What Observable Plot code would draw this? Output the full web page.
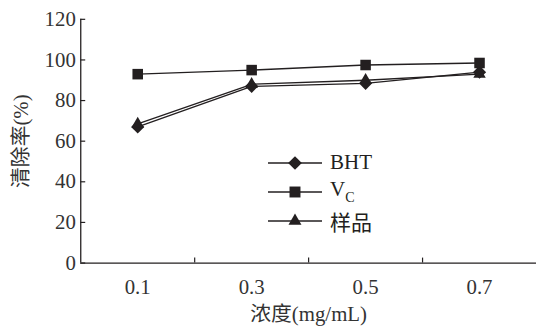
<!DOCTYPE html>
<html><head><meta charset="utf-8">
<script src="https://cdn.jsdelivr.net/npm/d3@7"></script>
<script src="https://cdn.jsdelivr.net/npm/@observablehq/plot@0.6"></script>
<style>
html,body{margin:0;padding:0;background:#fff;overflow:hidden;}
#wrap{position:relative;width:536px;height:329px;overflow:hidden;font-family:"Liberation Serif","Times New Roman","Noto Sans CJK SC",serif;color:#231f20;}
#chart svg text{font-size:21px !important;font-family:"Liberation Serif","Times New Roman","Noto Sans CJK SC",serif !important;}
#legend{position:absolute;left:266px;top:148px;font-size:21px;}
#legend .row{display:flex;align-items:center;height:29px;}
#legend svg{display:block;margin-right:6px;}
</style></head>
<body><div id="wrap"><div id="chart"></div><div id="legend"></div></div>
<script>
const concentrations = [0.1, 0.3, 0.5, 0.7];
const bht = [67, 87, 88.5, 94];
const vc = [93, 95, 97.5, 98.5];
const sample = [68.5, 88, 90, 93];
const seriesNames = ["BHT", "VC", "样品"];
const seriesSymbols = ["diamond2", "square", "triangle2"];
const yTicks = [0, 20, 40, 60, 80, 100, 120];
const xTickLabels = ["0.1", "0.3", "0.5", "0.7"];
const xBoundaries = [0.2, 0.4, 0.6];

const ink = "#231f20";
const table = [];
[bht, vc, sample].forEach((vals, si) => {
  vals.forEach((v, i) => table.push({series: seriesNames[si], x: concentrations[i], y: v, sym: seriesSymbols[si]}));
});

const chart = Plot.plot({
  width: 541, height: 329,
  marginLeft: 81, marginRight: 0, marginTop: 19, marginBottom: 64,
  style: {fontSize: "21px", color: ink, background: "#fff"},
  x: {domain: [0, 0.8]},
  y: {domain: [0, 120]},
  symbol: {domain: seriesSymbols, range: seriesSymbols},
  marks: [
    Plot.axisY({ticks: yTicks, tickSize: -5, tickPadding: 10, stroke: ink, strokeWidth: 1.2, fill: "#333",
      label: "清除率(%)", labelAnchor: "center", labelArrow: "none", labelOffset: 68}),
    Plot.axisX({ticks: xBoundaries, tickSize: -5, tickFormat: () => "", stroke: ink, strokeWidth: 1.2, label: null}),
    Plot.axisX({ticks: concentrations, tickSize: 0, tickPadding: 16, tickFormat: (d, i) => xTickLabels[i], fill: "#333",
      label: "浓度(mg/mL)", labelAnchor: "center", labelArrow: "none", labelOffset: 58}),
    Plot.ruleX([0], {stroke: ink, strokeWidth: 1.3}),
    Plot.ruleY([0], {stroke: ink, strokeWidth: 1.3}),
    Plot.line(table, {x: "x", y: "y", z: "series", stroke: ink, strokeWidth: 1.3}),
    Plot.dot(table, {x: "x", y: "y", symbol: "sym", fill: ink, stroke: "none", r: 6})
  ]
});
document.getElementById("chart").appendChild(chart);

// legend
const leg = d3.select("#legend");
const symMap = {diamond2: d3.symbolDiamond2, square: d3.symbolSquare, triangle2: d3.symbolTriangle2};
seriesNames.forEach((name, i) => {
  const row = leg.append("div").attr("class", "row");
  const svg = row.append("svg").attr("width", 58).attr("height", 20);
  svg.append("line").attr("x1", 2).attr("x2", 56).attr("y1", 10).attr("y2", 10).attr("stroke", ink).attr("stroke-width", 1.3);
  svg.append("path").attr("transform", "translate(29,10)").attr("d", d3.symbol(symMap[seriesSymbols[i]], 120)()).attr("fill", ink);
  const t = row.append("span");
  if (name === "VC") { t.html('V<sub style="font-size:14px;vertical-align:-6px">C</sub>'); }
  else t.text(name);
});
</script></body></html>
